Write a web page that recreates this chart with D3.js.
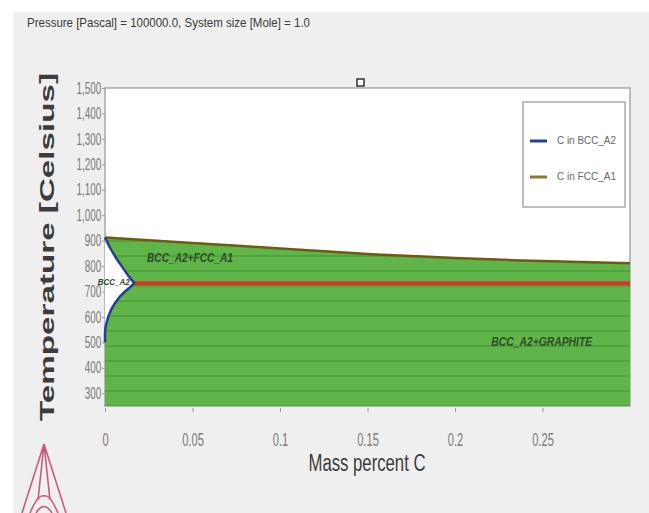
<!DOCTYPE html>
<html>
<head>
<meta charset="utf-8">
<style>
  body { margin: 0; background: #fff; }
  text { font-family: "Liberation Sans", Arial, sans-serif; }
  .tick text { fill: #7a7a7a; }
  .tick line, .domain { stroke: #9a9a9a; }
  .phase { font-weight: bold; font-style: italic; fill: #2f4a2c; }
</style>
</head>
<body>
<script src="https://cdn.jsdelivr.net/npm/d3@7"></script>
<script>
// phase boundaries (mass percent C, temperature C)
var fccLine = [[0, 912], [0.05, 891], [0.076, 880], [0.1, 869], [0.155, 846], [0.2, 832], [0.233, 823], [0.3, 811]];
var bccUpper = [[0, 912], [0.003, 870], [0.0065, 830], [0.0105, 790], [0.0135, 760], [0.0168, 733]];
var bccLower = [[0.0168, 733], [0.014, 715], [0.0114, 700], [0.0085, 680], [0.0057, 654], [0.0036, 630], [0.0019, 601], [0.001, 580], [0.0003, 560], [0, 540], [0, 500]];
var eutectoid = [[0.0168, 733], [0.3, 733]];

var legendNames = ["C in BCC_A2", "C in FCC_A1"];
var legendColors = ["#243c9c", "#8c7a2c"];
var phaseLabels = [
  {text: "BCC_A2+FCC_A1", c: 0.024, t: 830, w: 86, size: 12, anchor: "start"},
  {text: "BCC_A2", c: 0.005, t: 736, w: 32, size: 9, anchor: "middle"},
  {text: "BCC_A2+GRAPHITE", c: 0.2207, t: 498, w: 101, size: 12, anchor: "start"}
];
var xTicks = [0, 0.05, 0.1, 0.15, 0.2, 0.25];
var yTicks = [300, 400, 500, 600, 700, 800, 900, 1000, 1100, 1200, 1300, 1400, 1500];

var W = 649, H = 513;
var margin = {left: 105, right: 630, top: 88, bottom: 406};

var x = d3.scaleLinear().domain([0, 0.3]).range([margin.left, margin.right]);
var y = d3.scaleLinear().domain([250, 1500]).range([margin.bottom, margin.top]);

var svg = d3.select("body").append("svg").attr("width", W).attr("height", H);

// grey panel
svg.append("rect").attr("x", 13).attr("y", 12).attr("width", W - 13).attr("height", H - 12).attr("fill", "#efefef");

var defs = svg.append("defs");
var pat = defs.append("pattern").attr("id", "stripes").attr("patternUnits", "userSpaceOnUse")
  .attr("width", 20).attr("height", 15);
pat.append("rect").attr("width", 20).attr("height", 15).attr("fill", "#5fb548");
pat.append("rect").attr("y", 0).attr("width", 20).attr("height", 2).attr("fill", "#50a23c");

svg.append("text").attr("x", 27).attr("y", 27).attr("font-size", 13).attr("fill", "#3a3a3a")
  .attr("textLength", 283).attr("lengthAdjust", "spacingAndGlyphs")
  .text("Pressure [Pascal] = 100000.0, System size [Mole] = 1.0");

// plot background and frame
svg.append("rect").attr("x", margin.left).attr("y", margin.top)
  .attr("width", margin.right - margin.left).attr("height", margin.bottom - margin.top)
  .attr("fill", "#fff").attr("stroke", "#a8a8a8").attr("stroke-width", 1.5);

var line = d3.line().x(function(d) { return x(d[0]); }).y(function(d) { return y(d[1]); });

// two-phase field (green) below the FCC boundary
var greenPoly = fccLine.concat([[0.3, 250], [0, 250]]);
svg.append("path").attr("d", line(greenPoly) + "Z").attr("fill", "url(#stripes)");

// single phase BCC field (white)
var bccPoly = bccUpper.concat(bccLower.slice(1));
svg.append("path").attr("d", line(bccPoly) + "Z").attr("fill", "#fff");

svg.append("path").attr("d", line(eutectoid)).attr("fill", "none").attr("stroke", "#e0302c").attr("stroke-width", 4);
svg.append("path").attr("d", line(fccLine)).attr("fill", "none").attr("stroke", "#6e5a12").attr("stroke-width", 2.5);
svg.append("path").attr("d", line(bccUpper)).attr("fill", "none").attr("stroke", "#243c9c").attr("stroke-width", 2.5);
svg.append("path").attr("d", line(bccLower)).attr("fill", "none").attr("stroke", "#243c9c").attr("stroke-width", 2.5);

phaseLabels.forEach(function(p) {
  svg.append("text").attr("class", "phase").attr("x", x(p.c)).attr("y", y(p.t))
    .attr("font-size", p.size).attr("dominant-baseline", "middle").attr("text-anchor", p.anchor)
    .attr("textLength", p.w).attr("lengthAdjust", "spacingAndGlyphs").text(p.text);
});

// axes
var xAxis = svg.append("g").attr("transform", "translate(0," + (margin.bottom + 2) + ")")
  .call(d3.axisBottom(x).tickValues(xTicks).tickSize(4).tickPadding(21)
    .tickFormat(function(d) { return d === 0 ? "0" : String(+d.toFixed(2)); }));
xAxis.select(".domain").remove();
xAxis.selectAll("text").attr("font-size", 18).attr("transform", "scale(0.62,1)");

var yAxis = svg.append("g").attr("transform", "translate(" + margin.left + ",0)")
  .call(d3.axisLeft(y).tickValues(yTicks).tickSize(3).tickPadding(3).tickFormat(d3.format(",")));
yAxis.select(".domain").remove();
yAxis.selectAll("text").attr("font-size", 16).attr("transform", "scale(0.62,1)");

svg.append("text").attr("transform", "translate(54,247) rotate(-90)").attr("text-anchor", "middle")
  .attr("font-family", "DejaVu Sans").attr("font-weight", "bold").attr("font-size", 20).attr("fill", "#3c3c3c")
  .attr("textLength", 348).attr("lengthAdjust", "spacingAndGlyphs").text("Temperature [Celsius]");

svg.append("text").attr("x", 367).attr("y", 471).attr("text-anchor", "middle").attr("font-size", 23).attr("fill", "#3c3c3c")
  .attr("textLength", 117).attr("lengthAdjust", "spacingAndGlyphs").text("Mass percent C");

// small marker on top edge
svg.append("rect").attr("x", x(0.146) - 3.5).attr("y", margin.top - 9).attr("width", 7).attr("height", 7)
  .attr("fill", "#fff").attr("stroke", "#333").attr("stroke-width", 1.5);

// legend
var lg = svg.append("g");
lg.append("rect").attr("x", 523).attr("y", 102).attr("width", 102).attr("height", 105)
  .attr("fill", "#fff").attr("stroke", "#aaa").attr("stroke-width", 1.5);
legendNames.forEach(function(n, i) {
  var yy = 141 + i * 36;
  lg.append("line").attr("x1", 530).attr("x2", 547).attr("y1", yy).attr("y2", yy)
    .attr("stroke", legendColors[i]).attr("stroke-width", 3);
  lg.append("text").attr("x", 557).attr("y", yy).attr("dominant-baseline", "middle").attr("font-size", 11)
    .attr("fill", "#666").attr("textLength", 59).attr("lengthAdjust", "spacingAndGlyphs").text(n);
});

// logo
var logo = svg.append("g").attr("fill", "none").attr("stroke", "#c85a80").attr("stroke-width", 1.6);
logo.append("path").attr("d", "M44,444 L22,513 M44,444 L66,513 M44,444 L38,500 M44,444 L50,500");
logo.append("path").attr("d", "M30,513 Q38,494 44,496 Q50,494 58,513 M36,513 Q44,500 52,513");
</script>
</body>
</html>
